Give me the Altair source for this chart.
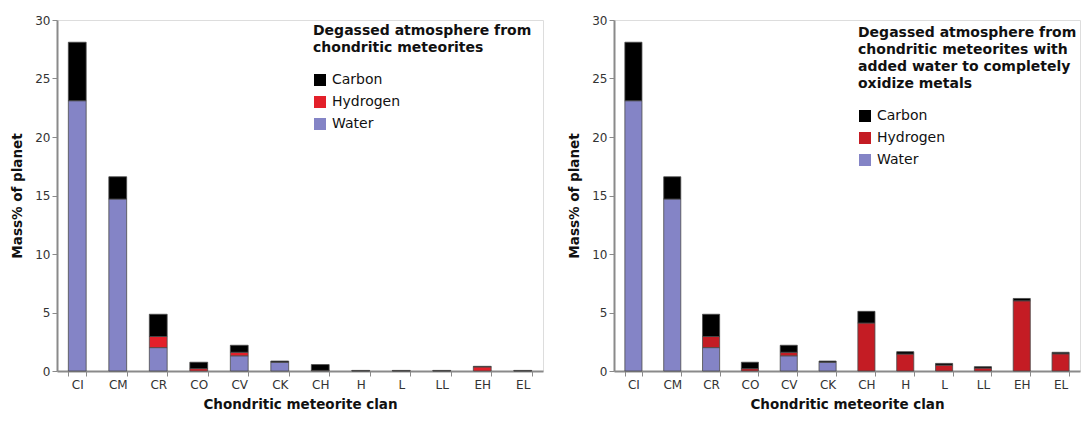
import altair as alt
import pandas as pd

clans = ["CI", "CM", "CR", "CO", "CV", "CK", "CH", "H", "L", "LL", "EH", "EL"]
components = ["Carbon", "Hydrogen", "Water"]
stack_rank = {"Water": 0, "Hydrogen": 1, "Carbon": 2}

# Left panel: degassed atmosphere from chondritic meteorites
water_left = [23.1, 14.7, 2.0, 0.0, 1.3, 0.75, 0.0, 0.0, 0.0, 0.0, 0.0, 0.0]
hydrogen_left = [0.0, 0.0, 0.95, 0.2, 0.3, 0.0, 0.05, 0.02, 0.02, 0.02, 0.35, 0.02]
carbon_left = [5.0, 1.9, 1.9, 0.55, 0.6, 0.1, 0.5, 0.03, 0.03, 0.03, 0.05, 0.03]

# Right panel: with added water to completely oxidize metals
water_right = [23.1, 14.7, 2.0, 0.0, 1.3, 0.75, 0.0, 0.0, 0.0, 0.0, 0.0, 0.0]
hydrogen_right = [0.0, 0.0, 0.95, 0.2, 0.3, 0.0, 4.1, 1.45, 0.5, 0.25, 6.0, 1.47]
carbon_right = [5.0, 1.9, 1.9, 0.55, 0.6, 0.1, 1.0, 0.2, 0.15, 0.12, 0.2, 0.13]

title_left = ["Degassed atmosphere from", "chondritic meteorites"]
title_right = ["Degassed atmosphere from", "chondritic meteorites with",
               "added water to completely", "oxidize metals"]

colors_left = ["#000000", "#E3202A", "#8484C6"]
colors_right = ["#000000", "#C41C24", "#8484C6"]

y_ticks = [0, 5, 10, 15, 20, 25, 30]

FONT = "DejaVu Sans"
axis_style = dict(labelFont=FONT, labelFontSize=12, labelColor="#333333",
                  titleFont=FONT, titleFontSize=13.5, titleFontWeight="bold",
                  titleColor="#111111", domainColor="#8a8a8a", domainWidth=2,
                  tickColor="#8a8a8a", tickWidth=1, tickSize=5)


def build_df(water, hydrogen, carbon):
    rows = []
    for i, c in enumerate(clans):
        for comp, vals in (("Water", water), ("Hydrogen", hydrogen), ("Carbon", carbon)):
            if vals[i] > 0:
                rows.append({"clan": c, "component": comp, "value": vals[i],
                             "rank": stack_rank[comp]})
    return pd.DataFrame(rows)


def panel(df, colors, title, width, lx, ly):
    return alt.Chart(df).mark_bar(stroke="#4a4a4a", strokeWidth=0.8).encode(
        x=alt.X("clan:N", sort=clans,
                scale=alt.Scale(paddingInner=0.56, paddingOuter=0.28),
                axis=alt.Axis(title="Chondritic meteorite clan", labelAngle=0,
                              tickBand="extent", labelPadding=3,
                              titlePadding=7, **axis_style)),
        y=alt.Y("value:Q", stack="zero",
                scale=alt.Scale(domain=[0, 30], nice=False),
                axis=alt.Axis(title="Mass% of planet", values=y_ticks, grid=False,
                              labelPadding=2, titlePadding=10, **axis_style)),
        color=alt.Color("component:N",
                        scale=alt.Scale(domain=components, range=colors),
                        legend=alt.Legend(title=title, orient="none",
                                          legendX=lx, legendY=ly,
                                          titleFont=FONT, titleFontSize=14,
                                          titleFontWeight="bold", titleColor="#111111",
                                          titleLineHeight=17, titlePadding=18,
                                          titleLimit=400,
                                          labelFont=FONT, labelFontSize=14,
                                          labelColor="#111111", labelLimit=300,
                                          labelOffset=5,
                                          symbolType="square", symbolSize=144,
                                          symbolStrokeWidth=0, rowPadding=8,
                                          padding=0)),
        order=alt.Order("rank:Q"),
    ).properties(width=width, height=351)


left = panel(build_df(water_left, hydrogen_left, carbon_left),
             colors_left, title_left, 486, 256, 4)
right = panel(build_df(water_right, hydrogen_right, carbon_right),
              colors_right, title_right, 466, 244, 6)

chart = alt.hconcat(left, right, spacing=23).resolve_scale(
    color="independent"
).resolve_legend(
    color="independent"
).properties(
    padding={"left": 2, "top": 5, "right": 0, "bottom": 0}
).configure_view(
    stroke="#a0a0a0", strokeWidth=2
).configure(background="white")

chart.save("out.html", embed_options={"renderer": "svg", "actions": False})
